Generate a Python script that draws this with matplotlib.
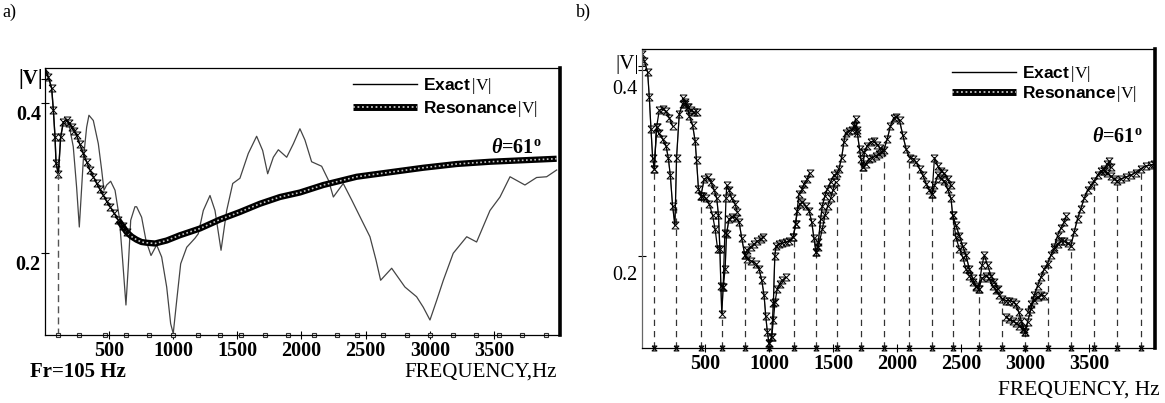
import numpy as np
import matplotlib
matplotlib.use("Agg")
import matplotlib.pyplot as plt
import matplotlib.transforms as mtransforms
from matplotlib.path import Path
from matplotlib.lines import Line2D
from matplotlib.legend_handler import HandlerTuple

plt.rcParams['font.family'] = ['Liberation Serif', 'DejaVu Serif']
plt.rcParams['mathtext.fontset'] = 'custom'
plt.rcParams['mathtext.rm'] = 'Liberation Serif'
plt.rcParams['mathtext.it'] = 'Liberation Serif:italic:bold'
plt.rcParams['mathtext.bf'] = 'Liberation Serif:bold'

# resonance frequencies, Hz
res_freqs = [105, 270, 470, 632, 812, 1000, 1192, 1367, 1530, 1716, 1895,
             2095, 2275, 2436, 2636, 2820, 3000, 3178, 3358, 3539, 3718, 3904]

# panel a: exact |V|
freq_a_exact = [4, 30, 56, 69, 82, 90, 108, 126, 147, 172, 195, 224, 250, 271, 302, 328,
                346, 380, 419, 445, 463, 484, 515, 549, 582, 608, 634, 652, 671, 704, 717,
                756, 790, 829, 873, 912, 951, 982, 1002, 1029, 1060, 1107, 1171, 1197, 1236,
                1288, 1327, 1374, 1418, 1465, 1521, 1586, 1651, 1698, 1737, 1781, 1820, 1885,
                1937, 1988, 2027, 2079, 2157, 2211, 2248, 2325, 2391, 2469, 2533, 2580, 2616,
                2702, 2805, 2896, 2948, 3000, 3052, 3104, 3181, 3286, 3363, 3467, 3545, 3623,
                3739, 3830, 3908, 3986]
exact_a = [0.446, 0.435, 0.420, 0.391, 0.355, 0.320, 0.306, 0.355, 0.375, 0.378, 0.368, 0.342,
           0.288, 0.235, 0.324, 0.368, 0.384, 0.377, 0.346, 0.311, 0.284, 0.291, 0.296, 0.284,
           0.248, 0.191, 0.131, 0.182, 0.244, 0.262, 0.262, 0.248, 0.217, 0.197, 0.211, 0.195,
           0.155, 0.106, 0.093, 0.137, 0.186, 0.208, 0.220, 0.226, 0.257, 0.277, 0.257, 0.204,
           0.257, 0.293, 0.300, 0.333, 0.356, 0.337, 0.306, 0.328, 0.338, 0.328, 0.346, 0.366,
           0.351, 0.322, 0.316, 0.297, 0.275, 0.293, 0.271, 0.244, 0.222, 0.191, 0.164, 0.180,
           0.155, 0.142, 0.128, 0.111, 0.137, 0.164, 0.200, 0.222, 0.215, 0.257, 0.275, 0.302,
           0.291, 0.301, 0.302, 0.311]

# panel a: resonance |V|
freq_a_res = [4, 30, 56, 69, 82, 90, 108, 126, 147, 172, 190, 212, 230, 250, 276, 302, 328,
              354, 380, 406, 432, 458, 484, 510, 543, 575, 608, 640, 680, 717, 755, 795, 860,
              951, 1054, 1210, 1366, 1521, 1677, 1833, 1988, 2170, 2430, 2689, 2948, 3208,
              3467, 3726, 3986]
res_a = [0.446, 0.435, 0.420, 0.391, 0.355, 0.320, 0.306, 0.355, 0.375, 0.378, 0.373, 0.368,
         0.363, 0.357, 0.345, 0.333, 0.322, 0.311, 0.302, 0.293, 0.285, 0.277, 0.269, 0.262,
         0.253, 0.244, 0.236, 0.228, 0.222, 0.218, 0.215, 0.214, 0.213, 0.217, 0.224, 0.233,
         0.245, 0.255, 0.266, 0.275, 0.281, 0.291, 0.302, 0.308, 0.314, 0.319, 0.322, 0.324,
         0.326]

# panel b: exact |V|
freq_b = [8, 26, 52, 65, 78, 91, 104, 122, 138, 169, 195, 213, 229, 247, 265, 278, 299, 325,
          346, 364, 377, 403, 423, 434, 449, 468, 494, 520, 546, 572, 592, 605, 616, 624, 631,
          642, 657, 668, 688, 709, 740, 766, 787, 811, 831, 857, 896, 922, 943, 961, 974, 987,
          1000, 1021, 1034, 1045, 1055, 1078, 1104, 1130, 1156, 1190, 1208, 1221, 1239, 1260,
          1286, 1312, 1333, 1351, 1367, 1385, 1403, 1416, 1437, 1455, 1481, 1507, 1530, 1546,
          1567, 1585, 1598, 1624, 1650, 1671, 1689, 1707, 1717, 1733, 1745, 1767, 1793, 1819,
          1845, 1870, 1896, 1923, 1948, 1974, 1993, 2019, 2045, 2071, 2097, 2123, 2149, 2175,
          2201, 2227, 2253, 2273, 2292, 2318, 2343, 2369, 2395, 2421, 2434, 2460, 2486, 2512,
          2538, 2564, 2590, 2616, 2637, 2663, 2694, 2720, 2746, 2772, 2798, 2819, 2850, 2876,
          2902, 2928, 2950, 2970, 2990, 3001, 3019, 3045, 3071, 3097, 3123, 3149, 3175, 3201,
          3227, 3253, 3279, 3305, 3331, 3357, 3383, 3409, 3435, 3461, 3487, 3513, 3539, 3565,
          3591, 3617, 3643, 3669, 3695, 3720, 3746, 3785, 3824, 3863, 3902, 3941, 3980, 4010]
exact_b = [0.418, 0.410, 0.398, 0.371, 0.337, 0.306, 0.294, 0.339, 0.332, 0.326, 0.319, 0.306,
           0.287, 0.254, 0.233, 0.306, 0.353, 0.364, 0.364, 0.360, 0.351, 0.341, 0.324, 0.303,
           0.272, 0.265, 0.283, 0.285, 0.280, 0.271, 0.262, 0.244, 0.208, 0.168, 0.138, 0.167,
           0.186, 0.224, 0.240, 0.242, 0.241, 0.237, 0.219, 0.201, 0.197, 0.195, 0.192, 0.186,
           0.174, 0.158, 0.136, 0.118, 0.106, 0.113, 0.150, 0.200, 0.211, 0.213, 0.214, 0.215,
           0.216, 0.221, 0.235, 0.249, 0.256, 0.258, 0.254, 0.249, 0.237, 0.219, 0.204, 0.215,
           0.240, 0.254, 0.265, 0.272, 0.280, 0.287, 0.289, 0.294, 0.306, 0.323, 0.333, 0.335,
           0.336, 0.341, 0.333, 0.315, 0.305, 0.296, 0.312, 0.319, 0.323, 0.324, 0.320, 0.316,
           0.314, 0.326, 0.340, 0.349, 0.350, 0.346, 0.330, 0.315, 0.306, 0.305, 0.301, 0.294,
           0.287, 0.278, 0.271, 0.267, 0.276, 0.287, 0.283, 0.281, 0.272, 0.262, 0.244, 0.233,
           0.222, 0.211, 0.201, 0.186, 0.176, 0.167, 0.165, 0.176, 0.179, 0.176, 0.168, 0.163,
           0.158, 0.154, 0.152, 0.152, 0.151, 0.148, 0.140, 0.130, 0.122, 0.118, 0.129, 0.143,
           0.158, 0.168, 0.177, 0.186, 0.192, 0.201, 0.208, 0.213, 0.216, 0.216, 0.214, 0.211,
           0.226, 0.240, 0.251, 0.262, 0.271, 0.276, 0.281, 0.287, 0.292, 0.292, 0.289, 0.286,
           0.283, 0.281, 0.283, 0.285, 0.287, 0.290, 0.294, 0.297, 0.298, 0.299]

# panel b: resonance branches that leave the exact curve
tails_b = [
    ([104, 122, 143, 169, 195, 221, 247], [0.294, 0.339, 0.357, 0.358, 0.356, 0.349, 0.340]),
    ([325, 346, 364, 390, 416, 436], [0.370, 0.366, 0.360, 0.357, 0.355, 0.355]),
    ([468, 481, 507, 533, 559, 579, 598], [0.265, 0.265, 0.262, 0.256, 0.244, 0.229, 0.208]),
    ([642, 655, 664, 670, 688, 709, 735, 753], [0.167, 0.225, 0.262, 0.276, 0.271, 0.262, 0.256, 0.247]),
    ([811, 831, 857, 883, 909, 935, 955], [0.201, 0.207, 0.210, 0.213, 0.216, 0.218, 0.221]),
    ([1000, 1021, 1034, 1047, 1065, 1083, 1104, 1130], [0.106, 0.113, 0.131, 0.151, 0.165, 0.170, 0.174, 0.177]),
    ([1190, 1208, 1234, 1260, 1273, 1299, 1317], [0.221, 0.235, 0.267, 0.272, 0.278, 0.283, 0.290]),
    ([1367, 1385, 1416, 1437, 1458, 1481, 1499, 1520], [0.204, 0.210, 0.229, 0.244, 0.254, 0.262, 0.271, 0.280]),
    ([1660, 1676, 1689], [0.340, 0.348, 0.336]),
    ([1733, 1754, 1780, 1806, 1832, 1858, 1880], [0.296, 0.299, 0.305, 0.306, 0.308, 0.310, 0.312]),
    ([2273, 2292, 2318, 2343, 2369, 2395, 2421], [0.267, 0.306, 0.297, 0.292, 0.289, 0.283, 0.276]),
    ([2434, 2460, 2486, 2512, 2538, 2564, 2590, 2616], [0.244, 0.220, 0.208, 0.199, 0.186, 0.179, 0.172, 0.168]),
    ([2637, 2663, 2681, 2707, 2733, 2759, 2785], [0.165, 0.190, 0.201, 0.190, 0.179, 0.172, 0.165]),
    ([2850, 2876, 2902, 2928, 2954, 2980, 3001], [0.134, 0.132, 0.130, 0.128, 0.125, 0.121, 0.118]),
    ([3019, 3045, 3071, 3097, 3123, 3149], [0.140, 0.148, 0.153, 0.156, 0.158, 0.157]),
    ([3227, 3253, 3279, 3305, 3320], [0.210, 0.222, 0.230, 0.237, 0.243]),
    ([3617, 3643, 3656, 3669], [0.294, 0.299, 0.302, 0.296]),
]

x_ticks = [500, 1000, 1500, 2000, 2500, 3000, 3500]
fr = 105

hourglass = Path([(-1, 1), (1, 1), (-1, -1), (1, -1), (-1, 1)],
                 [Path.MOVETO, Path.LINETO, Path.LINETO, Path.LINETO, Path.LINETO])
mk = dict(marker=hourglass, ms=5, mfc='none', mec='black', mew=0.7)

fig = plt.figure(figsize=(11.65, 4.03), dpi=100)
ax_a = fig.add_axes([45 / 1165, 68 / 403, 515 / 1165, 267 / 403])
ax_b = fig.add_axes([642 / 1165, 55 / 403, 513 / 1165, 299 / 403])


def style(ax, xlim, ylim, ybold, dy, vtop):
    ax.set_xlim(*xlim)
    ax.set_ylim(*ylim)
    for s in ['left', 'bottom', 'top']:
        ax.spines[s].set_linewidth(0.9)
    ax.spines['right'].set_linewidth(2.6)
    ax.set_xticks(x_ticks)
    ax.set_xticklabels([str(t) for t in x_ticks], fontsize=14.5, fontweight='bold')
    ax.set_yticks([0.2, 0.4])
    ax.set_yticklabels(['0.2', '0.4'], fontsize=14.5,
                       fontweight='bold' if ybold else 'normal')
    ax.set_yticks([vtop], minor=True)
    ax.tick_params(axis='x', direction='inout', length=6, width=0.8, pad=1)
    ax.tick_params(axis='y', direction='inout', length=6, width=0.8, pad=0)
    ax.tick_params(axis='y', which='minor', direction='inout', length=6, width=0.8)
    off = mtransforms.ScaledTranslation(0, -dy / 72, fig.dpi_scale_trans)
    for lab in ax.get_yticklabels():
        lab.set_transform(lab.get_transform() + off)


def legend(ax, x, y, gap):
    h_exact = Line2D([], [], color='black', lw=1)
    h_band = Line2D([], [], color='black', lw=5, solid_capstyle='butt')
    h_tex = Line2D([], [], color='#c8c8c8', lw=1.3, ls=(0, (1, 1.5)))
    ax.legend([h_exact, (h_band, h_tex)],
              [r'Exact$\,|\mathrm{V}|$', r'Resonance$\,|\mathrm{V}|$'],
              handler_map={tuple: HandlerTuple(ndivide=1)},
              loc='upper left', bbox_to_anchor=(x, y), frameon=False,
              borderpad=0, borderaxespad=0, handlelength=3.7, handletextpad=0.35,
              labelspacing=gap, prop=dict(family='Liberation Sans', weight='bold', size=12.5))


# ---- panel a
style(ax_a, (4, 4012), (0.091, 0.447), True, 7, 0.432)
ax_a.plot(freq_a_exact, exact_a, color='#444444', lw=0.9)
fa = np.array(freq_a_res)
va = np.array(res_a)
hi = fa >= 575
lo = fa <= 640
ax_a.plot(fa[hi], va[hi], color='black', lw=4.5, solid_capstyle='butt')
ax_a.plot(fa[hi], va[hi], color='#c8c8c8', lw=1.2, ls=(0, (1, 1.5)))
ax_a.plot(fa[lo], va[lo], color='black', lw=1.0, **mk)
ax_a.vlines(fr, 0.091, np.interp(fr, fa, va), colors='#555555', lw=1.0,
            linestyles=(0, (5, 3)))
ax_a.plot(res_freqs, [0] * len(res_freqs), ls='none', marker='s', ms=3.5, mfc='white',
          mec='#333333', mew=0.8, transform=ax_a.get_xaxis_transform(), clip_on=False)
legend(ax_a, 0.598, 0.97, 0.15)
ax_a.text(0.866, 0.70, r'$\theta$=6$\mathbf{1^o}$', transform=ax_a.transAxes,
          fontsize=14.5, fontweight='bold', va='center', ha='left')

# ---- panel b
style(ax_b, (8, 4014), (0.101, 0.423), False, 12, 0.405)
ax_b.spines['left'].set_color('#666666')
ax_b.plot(freq_b, exact_b, color='#777777', lw=0.8)
tops = np.interp(res_freqs, freq_b, exact_b)
ax_b.vlines(res_freqs, 0.101, tops, colors='#333333', lw=0.9, linestyles=(0, (5, 4)))
ax_b.plot(freq_b, exact_b, color='black', lw=0.9, **mk)
for tf, tv in tails_b:
    ax_b.plot(tf, tv, color='black', lw=0.9, **mk)
ax_b.plot(res_freqs, [0] * len(res_freqs), ls='none', transform=ax_b.get_xaxis_transform(),
          clip_on=False, marker=hourglass, ms=3.5, mfc='none', mec='black', mew=0.8)
legend(ax_b, 0.604, 0.95, 0.02)
ax_b.text(0.878, 0.705, r'$\theta$=6$\mathbf{1^o}$', transform=ax_b.transAxes,
          fontsize=14.5, fontweight='bold', va='center', ha='left')

# ---- loose labels
fig.text(2 / 1165, 1 - 12 / 403, 'a)', fontsize=13, va='center', ha='left')
fig.text(576 / 1165, 1 - 12 / 403, 'b)', fontsize=13, va='center', ha='left')
fig.text(43 / 1165, 1 - 79 / 403, '|V|', fontsize=15, fontweight='bold', va='center', ha='right')
fig.text(639 / 1165, 1 - 65 / 403, '|V|', fontsize=15, va='center', ha='right')
fig.text(30 / 1165, 1 - 372 / 403, 'Fr=105 Hz', fontsize=15, fontweight='bold',
         va='center', ha='left')
fig.text(557 / 1165, 1 - 372 / 403, 'FREQUENCY,Hz', fontsize=15, va='center', ha='right')
fig.text(1160 / 1165, 1 - 390 / 403, 'FREQUENCY, Hz', fontsize=15.5, va='center', ha='right')

fig.savefig('out.png', dpi=100)
